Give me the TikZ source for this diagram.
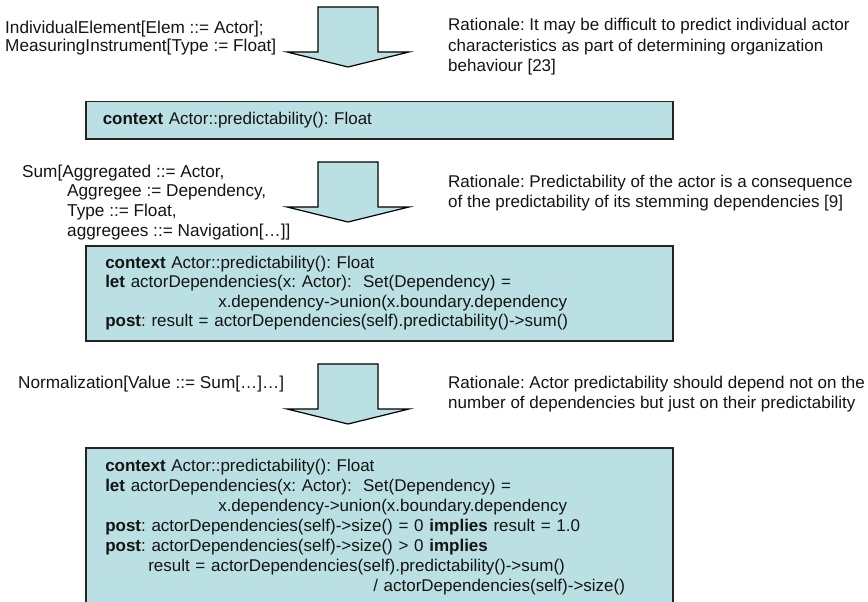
\documentclass[tikz,border=0pt]{standalone}
\usepackage{fontspec}
\setmainfont{Liberation Sans}
\frenchspacing
\definecolor{boxfill}{RGB}{186,224,227}
\definecolor{boxline}{RGB}{35,35,35}
\definecolor{txt}{RGB}{20,20,20}
\begin{document}
\begin{tikzpicture}[x=1pt,y=-1pt,
  every node/.style={font=\fontsize{17}{20}\selectfont, text=txt, inner sep=0pt},
  note/.style={anchor=base west, align=left},
  oclbox/.style={draw=boxline, fill=boxfill, line width=1.5pt, anchor=north west,
    align=left, minimum width=587pt, inner xsep=19.5pt, text width=548pt},
  bigarrow/.style={draw=black, fill=boxfill, line width=1.2pt, line join=miter},
  pics/downarrow/.style={code={
    \draw[bigarrow] (-30,0) -- (30,0) -- (30,45) -- (61,45) -- (0,60)
      -- (-61,45) -- (-30,45) -- cycle;}}
]
\useasboundingbox (0,0) rectangle (868,602);
\clip (0,0) rectangle (868,602);

% step 1 (base anchor = baseline of the last line)
\node[note, font=\fontsize{17.2}{17.7}\selectfont] (elem) at (5,51.2)
  {IndividualElement[Elem ::= Actor];\\MeasuringInstrument[Type := Float]};
\pic at (348,7) {downarrow};
\node[note] (rat1) at (448,71)
  {Rationale: It may be difficult to predict individual actor\\
   characteristics as part of determining organization\\
   behaviour [23]};
\node[oclbox, minimum height=37pt, inner xsep=17pt, text width=553pt] (ocl1) at (85,101)
  {\textbf{context} Actor::predictability(): Float};

% step 2
\node[note, font=\fontsize{17.2}{19.7}\selectfont] (sum) at (22,236.1)
  {Sum[Aggregated ::= Actor,\\
   \hspace*{45pt}Aggregee := Dependency,\\
   \hspace*{45pt}Type ::= Float,\\
   \hspace*{45pt}aggregees ::= Navigation[…]]};
\pic at (348,162) {downarrow};
\node[note] (rat2) at (448,207)
  {Rationale: Predictability of the actor is a consequence\\
   of the predictability of its stemming dependencies [9]};
\node[oclbox, minimum height=95pt, font=\fontsize{17}{19.5}\selectfont] (ocl2) at (85,245)
  {\textbf{context} Actor::predictability(): Float\\
   \textbf{let} actorDependencies(x: Actor):\ \ Set(Dependency) =\\
   \hspace*{113pt}x.dependency->union(x.boundary.dependency\\
   \textbf{post}: result = actorDependencies(self).predictability()->sum()};

% step 3
\node[note, font=\fontsize{17.2}{20}\selectfont] (norm) at (18,388) {Normalization[Value ::= Sum[…]…]};
\pic at (348,364) {downarrow};
\node[note] (rat3) at (448,408)
  {Rationale: Actor predictability should depend not on the\\
   number of dependencies but just on their predictability};
\node[oclbox, minimum height=158pt] (ocl3) at (85,447)
  {\textbf{context} Actor::predictability(): Float\\
   \textbf{let} actorDependencies(x: Actor):\ \ Set(Dependency) =\\
   \hspace*{113pt}x.dependency->union(x.boundary.dependency\\
   \textbf{post}: actorDependencies(self)->size() = 0 \textbf{implies} result = 1.0\\
   \textbf{post}: actorDependencies(self)->size() > 0 \textbf{implies}\\
   \hspace*{43pt}result = actorDependencies(self).predictability()->sum()\\
   \hspace*{268pt}/ actorDependencies(self)->size()};
\end{tikzpicture}
\end{document}
